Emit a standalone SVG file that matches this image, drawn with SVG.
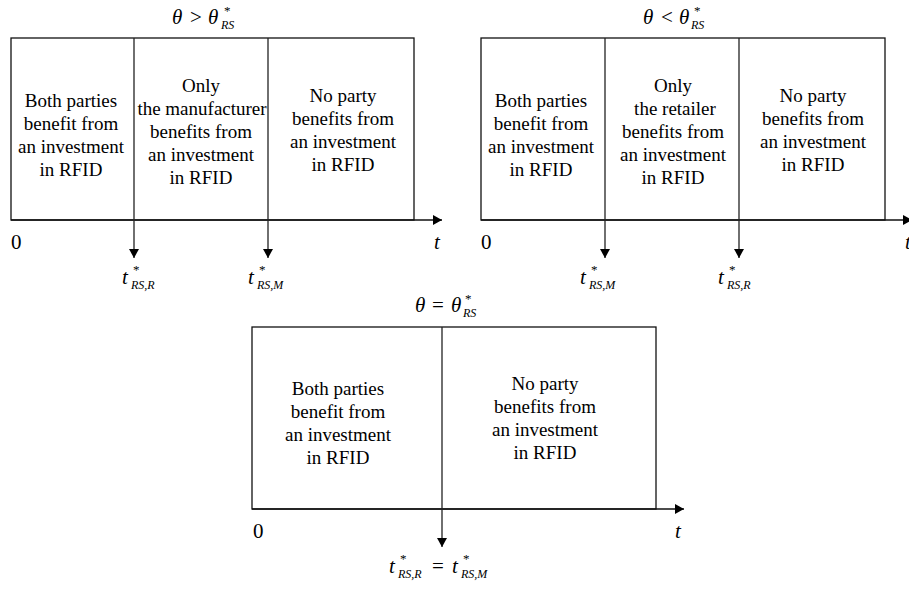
<svg xmlns="http://www.w3.org/2000/svg" width="909" height="590" viewBox="0 0 909 590" font-family="'Liberation Serif', 'Times New Roman', Times, 'DejaVu Serif', serif">
<style>
text{font-family:'Liberation Serif','Times New Roman',Times,'DejaVu Serif',serif;fill:#000}
.lbl{font-size:19px;text-anchor:middle}
.m{font-size:21px;font-style:italic}
.op{font-size:21px}
.sub{font-size:12px;font-style:italic}
.ast{font-size:13px}
.box{fill:#fff;stroke:#111;stroke-width:1.3}
.div{stroke:#222;stroke-width:1.3;fill:none}
.axis{stroke:#111;stroke-width:1.6;fill:none}
</style>
<defs>
<marker id="ah" markerUnits="userSpaceOnUse" markerWidth="10" markerHeight="10" refX="9" refY="5" orient="auto">
<path d="M0,0 L9,5 L0,10 z" fill="#000"/>
</marker>
</defs>
<rect width="909" height="590" fill="#fff"/>

<g id="panel1">
<rect class="box" x="11" y="38" width="403" height="182"/>
<g id="p1-title">
<text class="m" x="172" y="24">θ</text><text class="op" x="190" y="24">&gt;</text><text class="m" x="208" y="24">θ</text>
<text class="sub" x="221" y="29">RS</text><text class="ast" x="224" y="15">*</text>
</g>
<g id="p1-c1" class="lbl">
<text x="71" y="107">Both parties</text><text x="71" y="130">benefit from</text><text x="71" y="153">an investment</text><text x="71" y="176">in RFID</text>
</g>
<g id="p1-c2" class="lbl">
<text x="201" y="92">Only</text><text x="202" y="115">the manufacturer</text><text x="201" y="138">benefits from</text><text x="201" y="161">an investment</text><text x="201" y="184">in RFID</text>
</g>
<g id="p1-c3" class="lbl">
<text x="343" y="102">No party</text><text x="343" y="125">benefits from</text><text x="343" y="148">an investment</text><text x="343" y="171">in RFID</text>
</g>
<text class="op" x="11" y="249">0</text>
<text class="m" x="434" y="249">t</text>
<g id="p1-tR"><text class="m" x="122" y="284">t</text><text class="sub" x="131" y="289">RS,R</text><text class="ast" x="133" y="274">*</text></g>
<g id="p1-tM"><text class="m" x="248" y="284">t</text><text class="sub" x="257" y="289">RS,M</text><text class="ast" x="259" y="274">*</text></g>
</g>

<g id="panel2">
<rect class="box" x="481" y="38" width="404" height="182"/>
<g id="p2-title">
<text class="m" x="643" y="24">θ</text><text class="op" x="661" y="24">&lt;</text><text class="m" x="679" y="24">θ</text>
<text class="sub" x="691" y="29">RS</text><text class="ast" x="694" y="15">*</text>
</g>
<g id="p2-c1" class="lbl">
<text x="541" y="107">Both parties</text><text x="541" y="130">benefit from</text><text x="541" y="153">an investment</text><text x="541" y="176">in RFID</text>
</g>
<g id="p2-c2" class="lbl">
<text x="673" y="92">Only</text><text x="675" y="115">the retailer</text><text x="673" y="138">benefits from</text><text x="673" y="161">an investment</text><text x="673" y="184">in RFID</text>
</g>
<g id="p2-c3" class="lbl">
<text x="813" y="102">No party</text><text x="813" y="125">benefits from</text><text x="813" y="148">an investment</text><text x="813" y="171">in RFID</text>
</g>
<text class="op" x="481" y="249">0</text>
<text class="m" x="905" y="249">t</text>
<g id="p2-tM"><text class="m" x="580" y="284">t</text><text class="sub" x="589" y="289">RS,M</text><text class="ast" x="591" y="274">*</text></g>
<g id="p2-tR"><text class="m" x="718" y="284">t</text><text class="sub" x="727" y="289">RS,R</text><text class="ast" x="729" y="274">*</text></g>
</g>

<g id="panel3">
<rect class="box" x="252" y="327" width="404" height="182"/>
<g id="p3-title">
<text class="m" x="415" y="312">θ</text><text class="op" x="432" y="312">=</text><text class="m" x="451" y="312">θ</text>
<text class="sub" x="463" y="317">RS</text><text class="ast" x="465" y="303">*</text>
</g>
<g id="p3-c1" class="lbl">
<text x="338" y="395">Both parties</text><text x="338" y="418">benefit from</text><text x="338" y="441">an investment</text><text x="338" y="464">in RFID</text>
</g>
<g id="p3-c2" class="lbl">
<text x="545" y="390">No party</text><text x="545" y="413">benefits from</text><text x="545" y="436">an investment</text><text x="545" y="459">in RFID</text>
</g>
<text class="op" x="253" y="538">0</text>
<text class="m" x="675" y="538">t</text>
<g id="p3-t"><text class="m" x="389" y="573">t</text><text class="sub" x="398" y="578">RS,R</text><text class="ast" x="400" y="563">*</text>
<text class="op" x="432" y="573">=</text>
<text class="m" x="452" y="573">t</text><text class="sub" x="461" y="578">RS,M</text><text class="ast" x="463" y="563">*</text></g>
</g>

<g id="connectors">
<line class="axis" x1="11" y1="220" x2="442" y2="220" marker-end="url(#ah)"/>
<line class="div" x1="134" y1="38" x2="134" y2="258" marker-end="url(#ah)"/>
<line class="div" x1="268" y1="38" x2="268" y2="258" marker-end="url(#ah)"/>
<line class="axis" x1="481" y1="220" x2="912" y2="220" marker-end="url(#ah)"/>
<line class="div" x1="605" y1="38" x2="605" y2="258" marker-end="url(#ah)"/>
<line class="div" x1="739" y1="38" x2="739" y2="258" marker-end="url(#ah)"/>
<line class="axis" x1="252" y1="509" x2="684" y2="509" marker-end="url(#ah)"/>
<line class="div" x1="442" y1="327" x2="442" y2="547" marker-end="url(#ah)"/>
</g>
</svg>
